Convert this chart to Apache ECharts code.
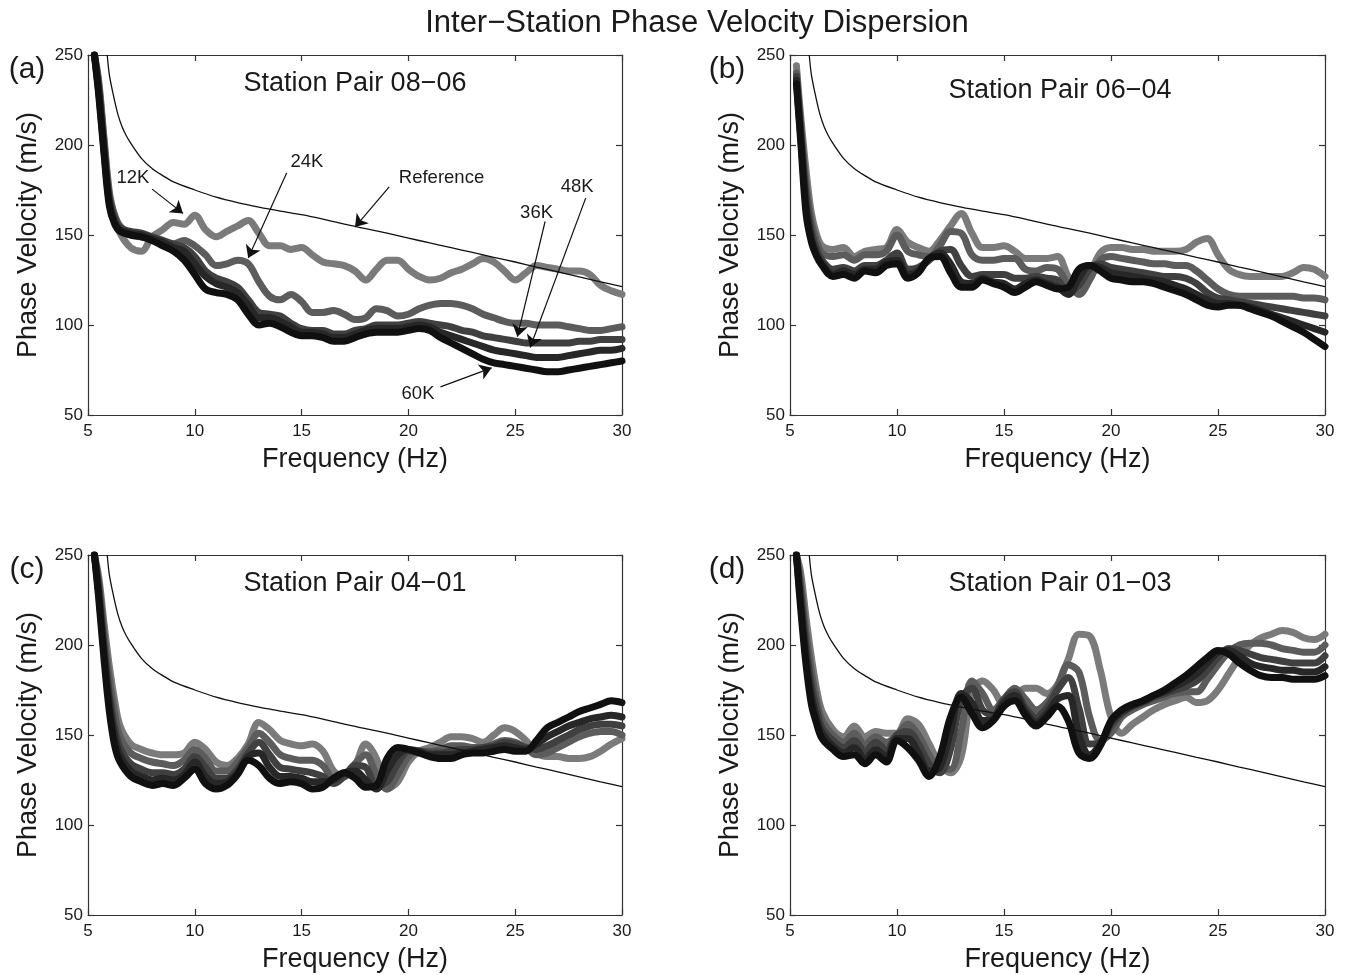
<!DOCTYPE html>
<html><head><meta charset="utf-8">
<script src="https://cdn.jsdelivr.net/npm/echarts@6/dist/echarts.min.js"></script>
<style>html,body{margin:0;padding:0;background:#fff;}#chart{width:1347px;height:975px;}</style>
</head><body><div id="chart"></div>
<script>
// ---------------- DATA ----------------
const FREQ = [5.3, 5.5, 5.75, 6, 6.25, 6.5,
  7, 7.5, 8, 8.5, 9, 9.5,
  10, 10.5, 11, 11.5, 12, 12.5, 13, 13.5, 14, 14.5,
  15, 15.5, 16, 16.5, 17, 17.5, 18, 18.5, 19, 19.5,
  20, 20.5, 21, 21.5, 22, 22.5, 23, 23.5, 24, 24.5,
  25, 25.5, 26, 26.5, 27, 27.5, 28, 28.5, 29, 29.5, 30];

const REF_FREQ = [5.9, 6, 6.2, 6.4, 6.6, 6.8, 7, 7.5, 8, 8.5, 9,
  10, 11, 12, 13, 14, 15, 16, 17, 18, 19,
  20, 21, 22, 23, 24, 25, 26, 27, 28, 29, 30];
const REF_VEL = [250, 239, 227, 217, 210, 205, 201, 192.6, 187, 183, 179.5,
  175, 171, 168, 165.5, 163.3, 161.3, 158.8, 156, 153.5, 151,
  148.3, 145.6, 143, 140.3, 137.6, 135, 132.2, 129.5, 126.8, 124, 121.3];

// Panel (a) Station Pair 08-06
const A_12K = [250, 236, 204, 174, 160, 151, 143, 141, 149, 153, 157, 156,
  161, 153, 149, 152, 155, 158, 151, 144, 144, 142,
  143, 139, 135, 134, 133, 130, 125, 131, 136, 136,
  131, 127, 125, 126, 129, 131, 134, 137, 135, 130,
  125, 129, 133, 132, 131, 130, 130, 128, 122, 119, 117];
const A_24K = [250, 234, 202, 172, 161, 155, 150, 149, 148, 146, 145, 147,
  144, 139, 133, 134, 136, 134, 124, 116, 114, 117,
  113, 107, 107, 108, 106, 103, 104, 109, 108, 105,
  106, 109, 111, 112, 112, 111, 109, 106, 104, 102,
  101, 101, 100, 100, 100, 99, 98, 97, 97, 98, 99];
const A_36K = [250, 232, 199, 170, 159, 154, 152, 151, 149, 147, 145, 143,
  138, 130, 126, 124, 121, 114, 107, 106, 105, 101,
  98, 97, 97, 95, 95, 97, 98, 100, 100, 100,
  101, 102, 101, 100, 99, 97, 96, 94, 93, 92,
  91, 90, 90, 90, 90, 90, 91, 91, 92, 92, 92];
const A_48K = [250, 230, 197, 168, 157, 153, 151, 150, 148, 146, 143, 141,
  134, 127, 123, 121, 118, 111, 104, 104, 102, 99,
  96, 96, 95, 93, 93, 95, 97, 98, 98, 98,
  99, 100, 99, 96, 94, 92, 90, 88, 86, 85,
  84, 83, 82, 82, 82, 83, 84, 85, 86, 86, 87];
const A_60K = [250, 228, 195, 166, 156, 152, 150, 149, 147, 144, 141, 136,
  128, 120, 118, 117, 114, 106, 100, 101, 99, 96,
  94, 94, 93, 91, 91, 93, 95, 96, 96, 96,
  97, 98, 97, 93, 90, 87, 84, 81, 79, 78,
  77, 76, 75, 74, 74, 75, 76, 77, 78, 79, 80];

// Panel (b) Station Pair 06-04
const B_12K = [244, 216, 186, 162, 150, 144, 142, 143, 138, 141, 142, 143,
  153, 146, 143, 141, 147, 155, 162, 151, 143, 143,
  144, 141, 137, 137, 137, 138, 127, 120, 128, 140,
  143, 143, 142, 142, 141, 141, 141, 142, 146, 148,
  139, 131, 128, 127, 127, 127, 127, 129, 132, 131, 127];
const B_24K = [240, 211, 178, 157, 146, 140, 138, 139, 136, 139, 139, 141,
  150, 141, 139, 138, 144, 152, 151, 139, 136, 136,
  137, 137, 131, 130, 132, 131, 122, 117, 125, 136,
  138, 137, 136, 135, 134, 134, 133, 133, 130, 125,
  120, 117, 116, 116, 116, 116, 116, 116, 115, 115, 114];
const B_36K = [238, 208, 172, 152, 142, 136, 131, 132, 130, 133, 133, 136,
  140, 131, 132, 136, 141, 142, 133, 127, 128, 128,
  128, 126, 126, 127, 126, 125, 118, 122, 131, 134,
  132, 131, 130, 129, 128, 127, 127, 126, 123, 118,
  115, 114, 113, 112, 111, 110, 109, 108, 107, 106, 105];
const B_48K = [236, 205, 167, 148, 139, 134, 128, 130, 128, 131, 131, 135,
  136, 128, 130, 137, 140, 134, 124, 123, 126, 124,
  123, 120, 123, 125, 123, 121, 117, 126, 133, 132,
  129, 128, 127, 126, 125, 124, 122, 120, 117, 114,
  112, 112, 111, 110, 108, 106, 104, 102, 100, 98, 96];
const B_60K = [234, 202, 162, 146, 138, 133, 127, 128, 126, 130, 129, 133,
  134, 126, 129, 137, 138, 129, 121, 121, 125, 123,
  121, 118, 121, 124, 122, 120, 121, 131, 133, 130,
  126, 125, 124, 124, 123, 121, 119, 117, 114, 111,
  110, 111, 111, 109, 107, 105, 102, 99, 96, 92, 88];

// Panel (c) Station Pair 04-01
const C_12K = [250, 238, 212, 188, 169, 155, 145, 142, 140, 139, 139, 140,
  146, 142, 135, 133, 137, 145, 157, 153, 147, 145,
  144, 145, 141, 130, 127, 133, 145, 137, 120, 124,
  135, 141, 143, 146, 149, 149, 148, 146, 150, 154,
  152, 147, 140, 138, 138, 137, 137, 138, 141, 145, 148];
const C_24K = [250, 235, 206, 181, 162, 149, 140, 137, 135, 134, 133, 136,
  142, 137, 130, 130, 135, 143, 151, 146, 139, 137,
  136, 136, 133, 126, 127, 134, 139, 128, 120, 128,
  138, 141, 141, 142, 144, 144, 143, 143, 145, 147,
  146, 143, 139, 140, 143, 146, 149, 151, 152, 152, 150];
const C_36K = [250, 232, 200, 173, 154, 143, 134, 131, 129, 129, 128, 131,
  138, 132, 126, 126, 131, 140, 146, 139, 132, 131,
  130, 129, 127, 123, 127, 133, 132, 122, 124, 134,
  141, 141, 140, 140, 141, 142, 142, 143, 144, 146,
  145, 143, 142, 144, 147, 150, 153, 155, 156, 156, 155];
const C_48K = [250, 229, 196, 168, 149, 139, 130, 127, 125, 126, 125, 128,
  135, 127, 123, 124, 129, 138, 140, 132, 127, 127,
  126, 124, 124, 125, 129, 130, 125, 120, 130, 139,
  142, 141, 139, 139, 139, 140, 141, 142, 143, 144,
  143, 142, 145, 149, 152, 155, 157, 159, 160, 161, 160];
const C_60K = [250, 226, 192, 163, 144, 135, 127, 124, 122, 123, 122, 126,
  131, 123, 120, 122, 128, 136, 133, 126, 123, 124,
  123, 120, 121, 126, 129, 126, 121, 122, 137, 143,
  142, 140, 138, 137, 137, 139, 140, 140, 141, 142,
  141, 141, 147, 154, 157, 160, 163, 165, 167, 169, 168];

// Panel (d) Station Pair 01-03
const D_12K = [250, 240, 215, 193, 175, 163, 153, 149, 155, 149, 152, 151,
  151, 159, 156, 145, 134, 129, 138, 174, 180, 175,
  167, 171, 176, 176, 173, 178, 192, 206, 205, 186,
  160, 151, 156, 160, 164, 167, 169, 171, 168, 169,
  175, 184, 193, 200, 204, 206, 208, 207, 204, 203, 206];
const D_24K = [250, 234, 207, 185, 169, 158, 150, 146, 151, 145, 149, 146,
  150, 156, 150, 139, 131, 131, 152, 180, 173, 164,
  170, 176, 170, 164, 168, 177, 189, 185, 160, 147,
  151, 160, 164, 167, 169, 171, 173, 174, 174, 181,
  189, 196, 200, 201, 201, 200, 198, 197, 196, 196, 200];
const D_36K = [250, 229, 200, 178, 164, 154, 147, 143, 147, 141, 146, 142,
  150, 152, 145, 134, 129, 142, 170, 176, 164, 161,
  170, 174, 165, 160, 165, 175, 182, 165, 145, 146,
  155, 162, 166, 168, 171, 173, 175, 177, 180, 186,
  193, 198, 197, 195, 193, 192, 191, 190, 190, 190, 194];
const D_48K = [250, 224, 194, 172, 159, 151, 144, 140, 143, 137, 142, 138,
  148, 148, 140, 130, 132, 152, 173, 168, 158, 159,
  168, 172, 163, 157, 162, 170, 172, 150, 139, 145,
  157, 163, 166, 169, 172, 174, 177, 180, 184, 190,
  196, 197, 194, 190, 188, 187, 186, 186, 185, 185, 188];
const D_60K = [250, 220, 189, 167, 156, 148, 142, 138, 139, 134, 139, 135,
  147, 143, 136, 127, 138, 160, 171, 162, 154, 158,
  166, 169, 161, 155, 160, 166, 158, 140, 137, 144,
  158, 164, 167, 169, 172, 175, 179, 183, 188, 193,
  197, 195, 190, 186, 183, 182, 182, 181, 181, 181, 183];

const SERIES_NAMES = ['12K', '24K', '36K', '48K', '60K'];
const PANEL_LABELS = ['(a)', '(b)', '(c)', '(d)'];
const PAIR_LABELS = ['Station Pair 08\u221206', 'Station Pair 06\u221204', 'Station Pair 04\u221201', 'Station Pair 01\u221203'];
const TITLE = 'Inter\u2212Station Phase Velocity Dispersion';
const X_NAME = 'Frequency (Hz)';
const Y_NAME = 'Phase Velocity (m/s)';
const X_RANGE = [5, 30, 5];
const Y_RANGE = [50, 250, 50];

// annotations of panel (a)
const ANNOT_TEXT = ['12K', '24K', 'Reference', '36K', '48K', '60K'];
const ANNOT_TEXT_POS = [[7.1, 181.5], [15.25, 190.5], [21.55, 181.5], [26.0, 162.5], [27.9, 176.5], [20.45, 61.5]];
const ANNOT_FROM = [[8.0, 175.5], [14.3, 184.4], [19.1, 176.7], [26.4, 157.5], [28.3, 170.5], [21.5, 65.6]];
const ANNOT_TO = [[9.45, 162.0], [12.5, 137.2], [17.5, 154.4], [25.1, 93.5], [25.7, 87.5], [23.9, 76.2]];

const PANEL_DATA = [
  [A_12K, A_24K, A_36K, A_48K, A_60K],
  [B_12K, B_24K, B_36K, B_48K, B_60K],
  [C_12K, C_24K, C_36K, C_48K, C_60K],
  [D_12K, D_24K, D_36K, D_48K, D_60K]
];

// ---------------- STYLE / LAYOUT ----------------
const FONT = "'Liberation Sans', Arial, Helvetica, sans-serif";
const TXT = '#1a1a1a';
const LINE_COLORS = ['#7b7b7b', '#5c5c5c', '#404040', '#272727', '#101010'];
const GRIDS = [
  {left: 88, top: 55, width: 534, height: 360},
  {left: 790, top: 55, width: 535, height: 360},
  {left: 88, top: 555, width: 534, height: 360},
  {left: 790, top: 555, width: 535, height: 360}
];
const LABEL_POS = [[27, 70], [727, 70], [27, 570], [727, 570]];
const PAIR_POS = [[355, 84], [1060, 91], [355, 584], [1060, 584]];

const axisLine = {show: true, lineStyle: {color: '#333', width: 1.2}};
const axisTick = {show: true, inside: true, length: 6, lineStyle: {color: '#333', width: 1.2}};

const xAxes = [], yAxes = [], series = [];
GRIDS.forEach((g, i) => {
  xAxes.push({
    type: 'value', gridIndex: i, position: 'bottom', min: X_RANGE[0], max: X_RANGE[1], interval: X_RANGE[2],
    axisLine, axisTick, splitLine: {show: false},
    axisLabel: {show: true, margin: 8, color: TXT, fontSize: 17, fontFamily: FONT},
    name: X_NAME, nameLocation: 'middle', nameGap: 31,
    nameTextStyle: {color: TXT, fontSize: 27, fontFamily: FONT}
  });
  xAxes.push({
    type: 'value', gridIndex: i, position: 'top', min: X_RANGE[0], max: X_RANGE[1], interval: X_RANGE[2],
    axisLine, axisTick, splitLine: {show: false}, axisLabel: {show: false}
  });
  yAxes.push({
    type: 'value', gridIndex: i, position: 'left', min: Y_RANGE[0], max: Y_RANGE[1], interval: Y_RANGE[2],
    axisLine, axisTick, splitLine: {show: false},
    axisLabel: {show: true, margin: 5, color: TXT, fontSize: 17, fontFamily: FONT},
    name: Y_NAME, nameLocation: 'middle', nameGap: 46,
    nameTextStyle: {color: TXT, fontSize: 27, fontFamily: FONT}
  });
  yAxes.push({
    type: 'value', gridIndex: i, position: 'right', min: Y_RANGE[0], max: Y_RANGE[1], interval: Y_RANGE[2],
    axisLine, axisTick, splitLine: {show: false}, axisLabel: {show: false}
  });

  PANEL_DATA[i].forEach((vals, k) => {
    series.push({
      name: SERIES_NAMES[k], type: 'line', xAxisIndex: 2 * i, yAxisIndex: 2 * i,
      data: FREQ.map((f, j) => [f, vals[j]]),
      showSymbol: false, smooth: 0.35, clip: true,
      lineStyle: {color: LINE_COLORS[k], width: 7, cap: 'round', join: 'round'},
      z: 2 + k, silent: true
    });
  });

  const ref = {
    name: 'Reference', type: 'line', xAxisIndex: 2 * i, yAxisIndex: 2 * i,
    data: REF_FREQ.map((f, j) => [f, REF_VEL[j]]),
    showSymbol: false, smooth: 0.3, clip: true,
    lineStyle: {color: '#111', width: 1.3}, z: 10, silent: true
  };
  if (i === 0) {
    ref.markLine = {
      silent: true, symbol: ['none', 'arrow'], symbolSize: 12, precision: 3,
      label: {show: false},
      lineStyle: {color: '#111', width: 1.2, type: 'solid'},
      data: ANNOT_FROM.map((p, j) => [{coord: p}, {coord: ANNOT_TO[j]}])
    };
    ref.markPoint = {
      silent: true, symbol: 'circle', symbolSize: 0,
      data: ANNOT_TEXT_POS.map((p, j) => ({
        coord: p, value: ANNOT_TEXT[j],
        label: {show: true, formatter: ANNOT_TEXT[j], position: 'inside', color: TXT, fontSize: 18.5, fontFamily: FONT}
      }))
    };
  }
  series.push(ref);
});

const textItems = [];
GRIDS.forEach((g, i) => {
  textItems.push({type: 'text', x: LABEL_POS[i][0], y: LABEL_POS[i][1],
    style: {text: PANEL_LABELS[i], fill: TXT, font: '30px ' + FONT, align: 'center', verticalAlign: 'middle'}});
  textItems.push({type: 'text', x: PAIR_POS[i][0], y: PAIR_POS[i][1],
    style: {text: PAIR_LABELS[i], fill: TXT, font: '27px ' + FONT, align: 'center', verticalAlign: 'middle'}});
});
textItems.push({type: 'text', x: 697, y: 23,
  style: {text: TITLE, fill: TXT, font: '31px ' + FONT, align: 'center', verticalAlign: 'middle'}});

const chart = echarts.init(document.getElementById('chart'), null, {renderer: 'canvas'});
chart.setOption({
  animation: false,
  backgroundColor: '#fff',
  grid: GRIDS.map(g => Object.assign({containLabel: false}, g)),
  xAxis: xAxes,
  yAxis: yAxes,
  series: series,
  graphic: textItems
});
</script></body></html>
